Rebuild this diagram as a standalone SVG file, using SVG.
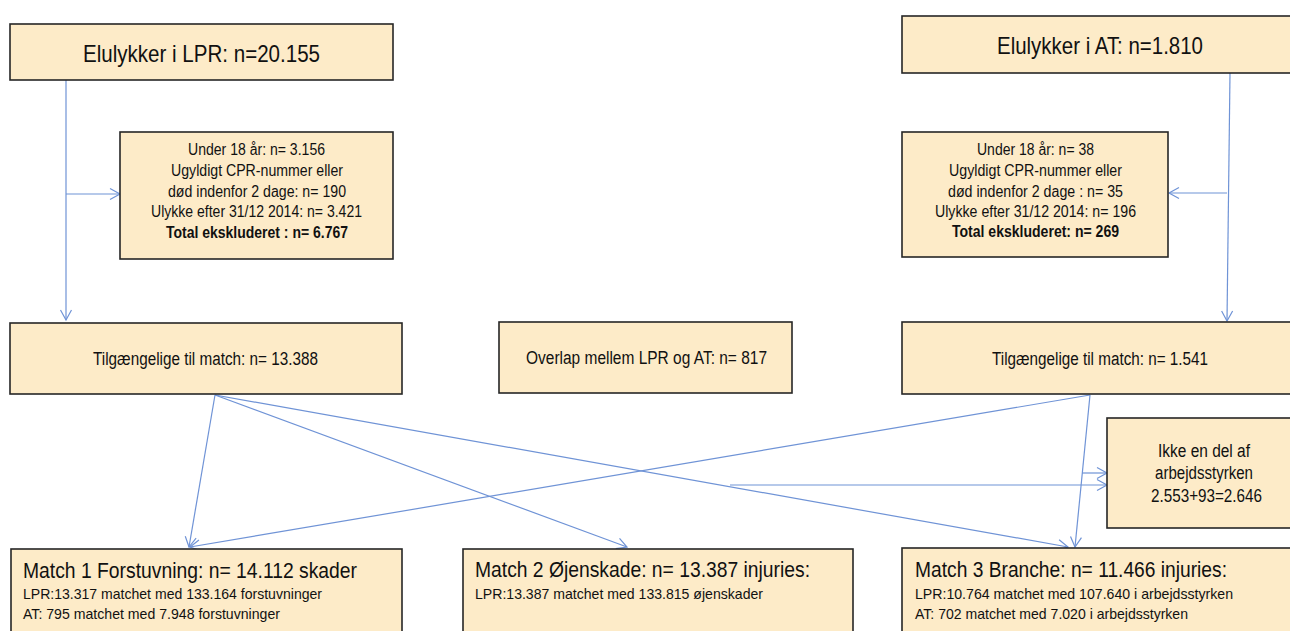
<svg xmlns="http://www.w3.org/2000/svg" width="1290" height="631" viewBox="0 0 1290 631">
<style>
.box{fill:#FDEBC8;stroke:#262626;stroke-width:1.6}
.t{font-family:"Liberation Sans",Arial,sans-serif;fill:#111}
.con{stroke:#6F93D6;stroke-width:1.2;fill:none}
</style>
<defs>
<marker id="arr" markerUnits="userSpaceOnUse" markerWidth="14" markerHeight="14" refX="11" refY="6" orient="auto" overflow="visible">
<path d="M1,0.5 L11,6 L1,11.5" fill="none" stroke="#6F93D6" stroke-width="1.2"/>
</marker>
</defs>
<rect width="1290" height="631" fill="#fff"/>
<g id="connectors">
<path class="con" d="M66,80 L66,320" marker-end="url(#arr)"/>
<path class="con" d="M66,194 L120,194" marker-end="url(#arr)"/>
<path class="con" d="M1230,73 L1227,321" marker-end="url(#arr)"/>
<path class="con" d="M1227,193 L1169,193" marker-end="url(#arr)"/>
<path class="con" d="M215,395 L189,547" marker-end="url(#arr)"/>
<path class="con" d="M215,395 L627,547" marker-end="url(#arr)"/>
<path class="con" d="M215,395 L1068,547" marker-end="url(#arr)"/>
<path class="con" d="M1090,395 L190,547" marker-end="url(#arr)"/>
<path class="con" d="M1090,395 L1075,547" marker-end="url(#arr)"/>
<path class="con" d="M730,485 L1107,485" marker-end="url(#arr)"/>
<path class="con" d="M1082,473 L1107,473" marker-end="url(#arr)"/>
</g>
<g id="lpr">
<rect class="box" x="10" y="24" width="383" height="56"/>
<text class="t" x="83" y="62" font-size="24" textLength="237" lengthAdjust="spacingAndGlyphs">Elulykker i LPR: n=20.155</text>
</g>
<g id="at">
<rect class="box" x="902" y="16" width="400" height="57"/>
<text class="t" x="997" y="54" font-size="24" textLength="206" lengthAdjust="spacingAndGlyphs">Elulykker i AT: n=1.810</text>
</g>
<g id="excl-lpr">
<rect class="box" x="120" y="132" width="273" height="127"/>
<text class="t" font-size="16">
<tspan x="188" y="155" textLength="137" lengthAdjust="spacingAndGlyphs">Under 18 år: n= 3.156</tspan>
</text>
<text class="t" x="171" y="176" font-size="16" textLength="172" lengthAdjust="spacingAndGlyphs">Ugyldigt CPR-nummer eller</text>
<text class="t" x="168" y="197" font-size="16" textLength="178" lengthAdjust="spacingAndGlyphs">død indenfor  2 dage: n= 190</text>
<text class="t" x="151" y="217" font-size="16" textLength="211" lengthAdjust="spacingAndGlyphs">Ulykke efter 31/12 2014: n= 3.421</text>
<text class="t" x="166" y="238" font-size="16" font-weight="bold" textLength="182" lengthAdjust="spacingAndGlyphs">Total ekskluderet : n= 6.767</text>
</g>
<g id="excl-at">
<rect class="box" x="902" y="132" width="266" height="125"/>
<text class="t" x="977" y="155" font-size="16" textLength="117" lengthAdjust="spacingAndGlyphs">Under 18 år: n= 38</text>
<text class="t" x="949" y="176" font-size="16" textLength="173" lengthAdjust="spacingAndGlyphs">Ugyldigt CPR-nummer eller</text>
<text class="t" x="948" y="197" font-size="16" textLength="175" lengthAdjust="spacingAndGlyphs">død indenfor  2 dage : n= 35</text>
<text class="t" x="935" y="217" font-size="16" textLength="201" lengthAdjust="spacingAndGlyphs">Ulykke efter 31/12 2014: n= 196</text>
<text class="t" x="952" y="237" font-size="16" font-weight="bold" textLength="167" lengthAdjust="spacingAndGlyphs">Total ekskluderet:  n= 269</text>
</g>
<g id="tilg-lpr">
<rect class="box" x="10" y="323" width="392" height="71"/>
<text class="t" x="93" y="365" font-size="18" textLength="225" lengthAdjust="spacingAndGlyphs">Tilgængelige  til match: n= 13.388</text>
</g>
<g id="overlap">
<rect class="box" x="499" y="322" width="293" height="71"/>
<text class="t" x="526" y="364" font-size="18" textLength="241" lengthAdjust="spacingAndGlyphs">Overlap mellem  LPR og AT: n= 817</text>
</g>
<g id="tilg-at">
<rect class="box" x="902" y="322" width="400" height="72"/>
<text class="t" x="992" y="365" font-size="18" textLength="216" lengthAdjust="spacingAndGlyphs">Tilgængelige  til match: n= 1.541</text>
</g>
<g id="ikke">
<rect class="box" x="1107" y="418" width="195" height="110"/>
<text class="t" x="1158" y="457" font-size="18" textLength="92" lengthAdjust="spacingAndGlyphs">Ikke en del af</text>
<text class="t" x="1155" y="479" font-size="18" textLength="98" lengthAdjust="spacingAndGlyphs">arbejdsstyrken</text>
<text class="t" x="1151" y="502" font-size="18" textLength="111" lengthAdjust="spacingAndGlyphs">2.553+93=2.646</text>
</g>
<g id="match1">
<rect class="box" x="11" y="549" width="391" height="100"/>
<text class="t" x="23" y="578" font-size="22" textLength="334" lengthAdjust="spacingAndGlyphs">Match 1 Forstuvning: n= 14.112 skader</text>
<text class="t" x="23" y="599" font-size="15" textLength="299" lengthAdjust="spacingAndGlyphs">LPR:13.317 matchet med 133.164 forstuvninger</text>
<text class="t" x="23" y="619" font-size="15" textLength="257" lengthAdjust="spacingAndGlyphs">AT: 795 matchet med 7.948 forstuvninger</text>
</g>
<g id="match2">
<rect class="box" x="463" y="549" width="390" height="100"/>
<text class="t" x="475" y="577" font-size="22" textLength="335" lengthAdjust="spacingAndGlyphs">Match 2 Øjenskade: n= 13.387 injuries:</text>
<text class="t" x="475" y="599" font-size="15" textLength="288" lengthAdjust="spacingAndGlyphs">LPR:13.387 matchet med 133.815 øjenskader</text>
</g>
<g id="match3">
<rect class="box" x="902" y="548" width="400" height="100"/>
<text class="t" x="915" y="577" font-size="22" textLength="312" lengthAdjust="spacingAndGlyphs">Match 3 Branche: n= 11.466 injuries:</text>
<text class="t" x="915" y="599" font-size="15" textLength="318" lengthAdjust="spacingAndGlyphs">LPR:10.764  matchet med 107.640 i arbejdsstyrken</text>
<text class="t" x="915" y="619" font-size="15" textLength="273" lengthAdjust="spacingAndGlyphs">AT: 702 matchet med 7.020 i arbejdsstyrken</text>
</g>
</svg>
